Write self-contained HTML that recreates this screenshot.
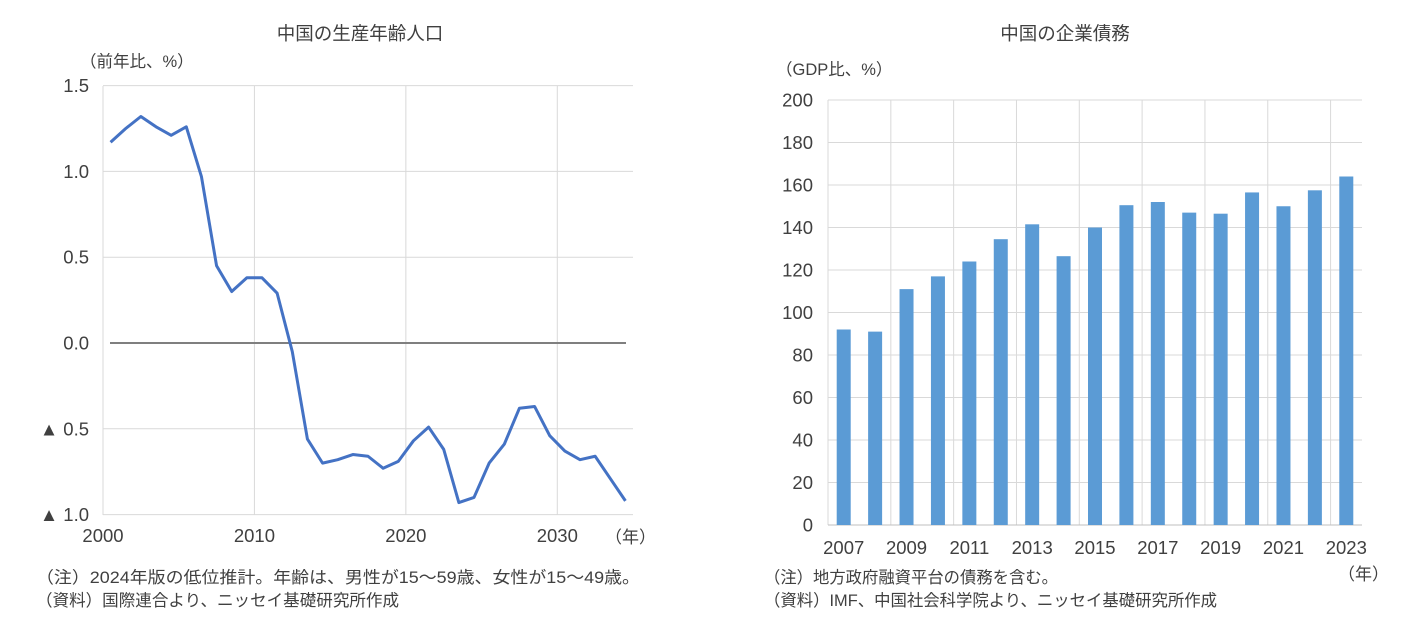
<!DOCTYPE html>
<html><head><meta charset="utf-8"><style>
body{margin:0;background:#fff;width:1416px;height:639px;overflow:hidden;font-family:"Liberation Sans","Noto Sans CJK JP",sans-serif;}
svg text{font-family:"Liberation Sans","Noto Sans CJK JP",sans-serif;fill:#404040;}
</style></head><body>
<svg id="c" width="1416" height="639">
<text x="360" y="40" font-size="18.5" text-anchor="middle">中国の生産年齢人口</text>
<text x="80" y="67" font-size="16.5">（前年比、%）</text>
<text x="1065" y="40" font-size="18.5" text-anchor="middle">中国の企業債務</text>
<text x="776" y="75" font-size="16.5">（GDP比、%）</text>
<text x="605" y="543" font-size="17">（年）</text>
<text x="1338" y="580" font-size="17">（年）</text>
<text x="36" y="583" font-size="16.5" textLength="604" lengthAdjust="spacingAndGlyphs">（注）2024年版の低位推計。年齢は、男性が15～59歳、女性が15～49歳。</text>
<text x="36" y="606" font-size="16.5" textLength="363" lengthAdjust="spacingAndGlyphs">（資料）国際連合より、ニッセイ基礎研究所作成</text>
<text x="764" y="583" font-size="16.5" textLength="294" lengthAdjust="spacingAndGlyphs">（注）地方政府融資平台の債務を含む。</text>
<text x="764" y="606" font-size="16.5" textLength="453" lengthAdjust="spacingAndGlyphs">（資料）IMF、中国社会科学院より、ニッセイ基礎研究所作成</text>
<g id="L"></g><g id="R"></g>
</svg>
<script>
const years=[2000,2001,2002,2003,2004,2005,2006,2007,2008,2009,2010,2011,2012,2013,2014,2015,2016,2017,2018,2019,2020,2021,2022,2023,2024,2025,2026,2027,2028,2029,2030,2031,2032,2033,2034];
const popGrowth=[1.17,1.25,1.32,1.26,1.21,1.26,0.97,0.45,0.30,0.38,0.38,0.29,-0.05,-0.56,-0.70,-0.68,-0.65,-0.66,-0.73,-0.69,-0.57,-0.49,-0.62,-0.93,-0.90,-0.70,-0.59,-0.38,-0.37,-0.54,-0.63,-0.68,-0.66,-0.79,-0.92];
const leftTicks=[1.5,1.0,0.5,0.0,-0.5,-1.0];
const leftTickLabels=["1.5","1.0","0.5","0.0","▲ 0.5","▲ 1.0"];
const leftXTicks=[2000,2010,2020,2030];
const debtYears=[2007,2008,2009,2010,2011,2012,2013,2014,2015,2016,2017,2018,2019,2020,2021,2022,2023];
const debt=[92,91,111,117,124,134.5,141.5,126.5,140,150.5,152,147,146.5,156.5,150,157.5,164];
const rightTicks=[0,20,40,60,80,100,120,140,160,180,200];
const rightXLabels=[2007,2009,2011,2013,2015,2017,2019,2021,2023];
const NS="http://www.w3.org/2000/svg";
function mk(p,t,a){const e=document.createElementNS(NS,t);for(const k in a)e.setAttribute(k,a[k]);p.appendChild(e);return e;}
// left
const L=document.getElementById('L');
const lx=y=>103+(y-2000)*15.143, lxc=y=>lx(y)+7.57, ly=v=>343-v*171.6;
leftXTicks.forEach(t=>{const e=mk(L,'line',{x1:lx(t),x2:lx(t),y1:86,y2:515,stroke:'#d9d9d9'});


const tx=mk(L,'text',{x:lx(t),y:542,'font-size':18.5,'text-anchor':'middle'});tx.textContent=t;

});
leftTicks.forEach((t,i)=>{const e=mk(L,'line',{x1:103,x2:633,y1:ly(t),y2:ly(t),stroke:t===0?'#7f7f7f':'#d9d9d9','stroke-width':t===0?2:1});
if(t===0){e.setAttribute('x1',110);e.setAttribute('x2',626);}


const tx=mk(L,'text',{x:89,y:ly(t)+6.5,'font-size':18.5,'text-anchor':'end'});tx.textContent=leftTickLabels[i];

});
const pl=mk(L,'polyline',{points:years.map((y,i)=>lxc(y)+','+ly(popGrowth[i])).join(' '),fill:'none',stroke:'#4472c4','stroke-width':3,'stroke-linejoin':'round'});


// right
const R=document.getElementById('R');
const cw=(1362-828)/debtYears.length, rx=i=>828+i*cw, ry=v=>525-v*2.125;
for(let i=0;i<=debtYears.length;i+=2){const e=mk(R,'line',{x1:rx(i),x2:rx(i),y1:100,y2:525,stroke:'#d9d9d9'});

}
rightTicks.forEach(t=>{const e=mk(R,'line',{x1:828,x2:1362,y1:ry(t),y2:ry(t),stroke:t===0?'#bfbfbf':'#d9d9d9'});


const tx=mk(R,'text',{x:813,y:ry(t)+6.5,'font-size':18.5,'text-anchor':'end'});tx.textContent=t;

});
debtYears.forEach((y,i)=>{const b=mk(R,'rect',{x:rx(i)+cw/2-7,y:ry(debt[i]),width:14,height:debt[i]*2.125,fill:'#5b9bd5'});


if(rightXLabels.includes(y)){const tx=mk(R,'text',{x:rx(i)+cw/2,y:554,'font-size':18.5,'text-anchor':'middle'});tx.textContent=y;

}});
</script>
</body></html>
